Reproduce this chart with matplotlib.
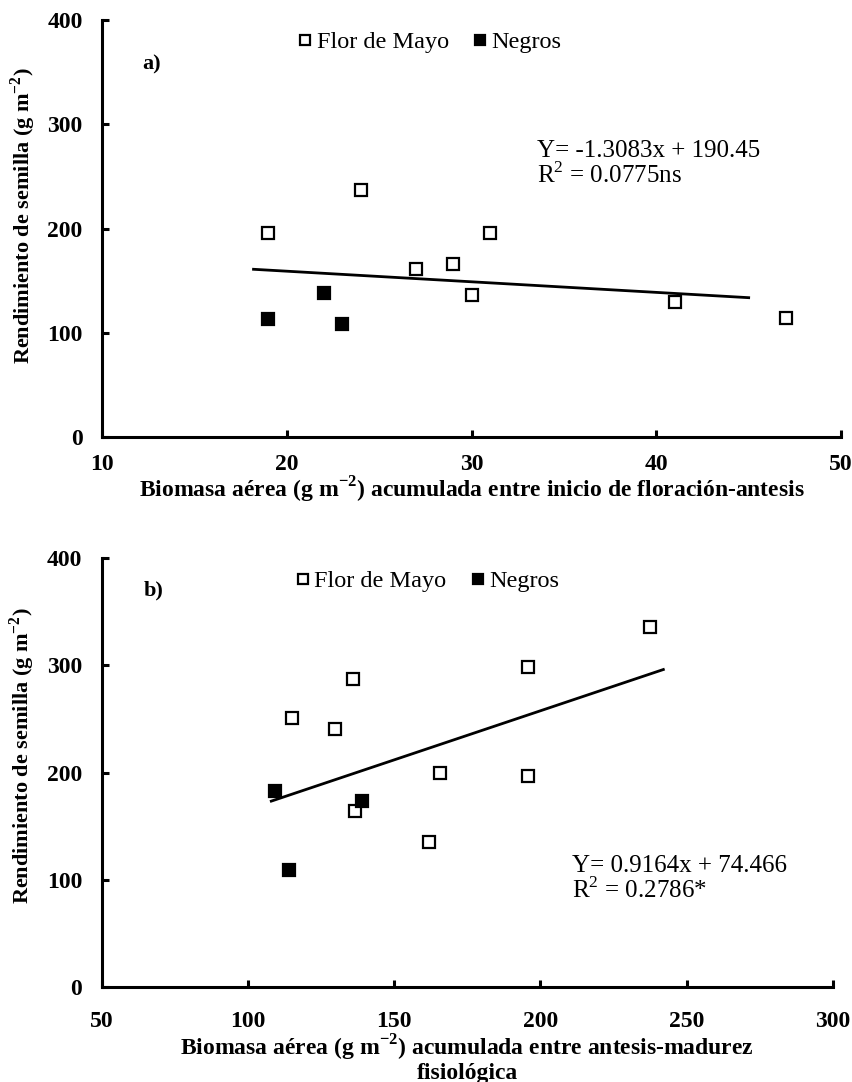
import matplotlib.pyplot as plt

plt.rcParams['font.family'] = ['Liberation Serif', 'DejaVu Serif']
plt.rcParams['mathtext.fontset'] = 'custom'
plt.rcParams['mathtext.rm'] = 'Liberation Serif'
plt.rcParams['mathtext.bf'] = 'Liberation Serif:bold'

# panel a: biomasa inicio floracion - antesis
fm_a_x = [19, 24, 27, 29, 31, 30, 41, 47]
fm_a_y = [195.6, 237, 161.4, 165.9, 195.6, 136.8, 129.5, 114.2]
ng_a_x = [19, 22, 23]
ng_a_y = [113.2, 138.1, 108.7]
trend_a_x = [18.2, 45]
trend_a_y = [161.1, 133.9]

# panel b: biomasa antesis - madurez fisiologica
fm_b_x = [115.1, 129.8, 136, 136.7, 161.9, 165.6, 195.6, 195.6, 237.5]
fm_b_y = [250.7, 240.4, 287.3, 164.2, 135, 199.3, 298.5, 197.1, 335.8]
ng_b_x = [109.1, 114, 138.9]
ng_b_y = [182.8, 109.1, 173.8]
trend_b_x = [108, 242]
trend_b_y = [0.9164 * x + 74.466 for x in trend_b_x]

ylab = r'Rendimiento de semilla (g m$^{\mathbf{-2}}$)'
xlab_a = r'Biomasa aérea (g m$^{\mathbf{-2}}$) acumulada entre inicio de floración-antesis'
xlab_b = 'Biomasa aérea (g m$^{\\mathbf{-2}}$) acumulada entre antesis-madurez\nfisiológica'


def style(ax, pad):
  for s in ['top', 'right']:
    ax.spines[s].set_visible(False)
  for s in ['left', 'bottom']:
    ax.spines[s].set_linewidth(2.2)
  ax.tick_params(direction='in', length=5, width=2.2, labelsize=17, pad=14)
  ax.tick_params(axis='x', pad=pad)
  for lb in ax.get_xticklabels() + ax.get_yticklabels():
    lb.set_fontweight('bold')


def panel(ax, fx, fy, nx, ny, tx, ty):
  ax.plot(fx, fy, 's', ms=9, mfc='white', mec='black', mew=1.6, label='Flor de Mayo')
  ax.plot(nx, ny, 's', ms=9, mfc='black', mec='black', mew=1.6, label='Negros')
  ax.plot(tx, ty, '-', color='black', lw=2)
  ax.legend(loc='center left', bbox_to_anchor=(0.266, 0.947), ncol=2, frameon=False,
            handlelength=0.55, handletextpad=0.2, columnspacing=1.0, borderpad=0,
            borderaxespad=0, fontsize=17.5, markerscale=0.85)


fig = plt.figure(figsize=(8.53, 10.82), dpi=100)

ax1 = fig.add_axes([0.1196, 0.5957, 0.8664, 0.3859])
panel(ax1, fm_a_x, fm_a_y, ng_a_x, ng_a_y, trend_a_x, trend_a_y)
ax1.set_xlim(10, 50)
ax1.set_ylim(0, 400)
ax1.set_xticks([10, 20, 30, 40, 50])
ax1.set_yticks([0, 100, 200, 300, 400])
style(ax1, 12)
ax1.set_ylabel(ylab, fontsize=16, fontweight='bold')
ax1.yaxis.set_label_coords(-0.087, 0.53)
ax1.set_xlabel(xlab_a, fontsize=17, fontweight='bold', labelpad=0)
ax1.text(0.055, 0.893, 'a)', transform=ax1.transAxes, fontsize=16, fontweight='bold', va='center')
ax1.text(0.589, 0.655, 'Y= -1.3083x + 190.45\nR$^2$ = 0.0775ns', transform=ax1.transAxes,
         fontsize=18, va='center', linespacing=1.05)

ax2 = fig.add_axes([0.1191, 0.0878, 0.8575, 0.3962])
panel(ax2, fm_b_x, fm_b_y, ng_b_x, ng_b_y, trend_b_x, trend_b_y)
ax2.set_xlim(50, 300)
ax2.set_ylim(0, 400)
ax2.set_xticks([50, 100, 150, 200, 250, 300])
ax2.set_yticks([0, 100, 200, 300, 400])
style(ax2, 17)
ax2.set_ylabel(ylab, fontsize=16, fontweight='bold')
ax2.yaxis.set_label_coords(-0.088, 0.539)
ax2.set_xlabel(xlab_b, fontsize=17, fontweight='bold', labelpad=1, linespacing=0.95)
ax2.text(0.057, 0.926, 'b)', transform=ax2.transAxes, fontsize=16, fontweight='bold', va='center')
ax2.text(0.643, 0.252, 'Y= 0.9164x + 74.466\nR$^2$ = 0.2786*', transform=ax2.transAxes,
         fontsize=18, va='center', linespacing=1.05)

fig.savefig('out.png', dpi=100)
